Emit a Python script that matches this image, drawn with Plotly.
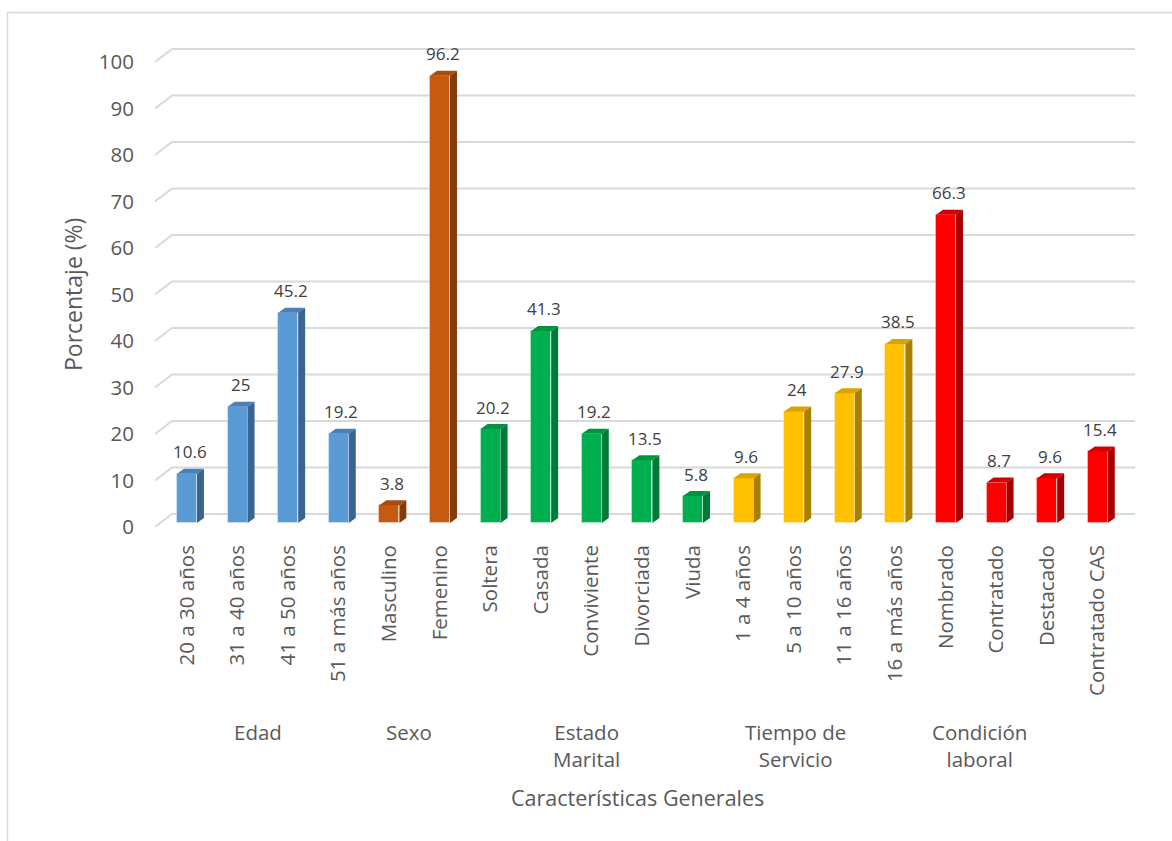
import plotly.graph_objects as go

# Survey categories, grouped by characteristic
categories = [
    "20 a 30 años", "31 a 40 años", "41 a 50 años", "51 a más años",
    "Masculino", "Femenino",
    "Soltera", "Casada", "Conviviente", "Divorciada", "Viuda",
    "1 a 4 años", "5 a 10 años", "11 a 16 años", "16 a más años",
    "Nombrado", "Contratado", "Destacado", "Contratado CAS",
]
percentages = [
    10.6, 25, 45.2, 19.2,
    3.8, 96.2,
    20.2, 41.3, 19.2, 13.5, 5.8,
    9.6, 24, 27.9, 38.5,
    66.3, 8.7, 9.6, 15.4,
]
group_of_bar = [0] * 4 + [1] * 2 + [2] * 5 + [3] * 4 + [4] * 4
group_labels = ["Edad", "Sexo", "Estado<br>Marital", "Tiempo de<br>Servicio", "Condición<br>laboral"]
group_label_x = [1.40, 4.39, 7.90, 12.02, 15.67]
y_ticks = list(range(0, 101, 10))

# (front, top, side) shades per group
palette = [
    ("#5B9BD5", "#4A80B6", "#3A6590"),
    ("#C55A11", "#A84C0E", "#843C0C"),
    ("#00B050", "#00943F", "#007A37"),
    ("#FFC000", "#D9A400", "#A98000"),
    ("#FF0000", "#D40000", "#A80000"),
]

half_w = 0.1975        # half bar width (category units)
dx, dv = 0.138, 1.075  # depth offset of the 3D faces
grid_front, grid_back, grid_back_x = -0.86, 1.935, -0.296
x_lo, x_hi = -0.632, 18.735

W, H = 1172, 841
L, R, T, B = 155, 37, 40, 311
pw, ph = W - L - R, H - T - B


def px_x(p):
    return (p - L) / pw


def px_y(p):
    return (H - B - p) / ph


fig = go.Figure()

# Back-wall gridlines with the perspective kink on the left
for t in y_ticks:
    fig.add_shape(
        type="path", xref="x", yref="y", layer="below",
        path=f"M {x_lo},{t + grid_front} L {grid_back_x},{t + grid_back} L {x_hi},{t + grid_back}",
        line=dict(color="#D9D9D9", width=2),
    )

# Front faces
fig.add_trace(go.Bar(
    x=list(range(len(categories))), y=percentages, width=2 * half_w,
    marker=dict(color=[palette[g][0] for g in group_of_bar],
                line=dict(color="rgba(255,255,255,0.35)", width=1)),
    showlegend=False, hoverinfo="skip",
))

# Top and side faces
for g in range(len(palette)):
    tx, ty, sx, sy = [], [], [], []
    for i, v in enumerate(percentages):
        if group_of_bar[i] != g:
            continue
        l, r = i - half_w, i + half_w
        tx += [l, r, r + dx, l + dx, l, None]
        ty += [v, v, v + dv, v + dv, v, None]
        sx += [r, r + dx, r + dx, r, r, None]
        sy += [0, dv, v + dv, v, 0, None]
    fig.add_trace(go.Scatter(x=tx, y=ty, fill="toself", fillcolor=palette[g][1], mode="lines",
                             line=dict(width=0), hoverinfo="skip", showlegend=False))
    fig.add_trace(go.Scatter(x=sx, y=sy, fill="toself", fillcolor=palette[g][2], mode="lines",
                             line=dict(width=0), hoverinfo="skip", showlegend=False))

# Value labels above bars
for i, v in enumerate(percentages):
    fig.add_annotation(x=i + 0.05, y=v, text=f"{v:g}", showarrow=False, yshift=22,
                       font=dict(size=17, color="#404040", family="Open Sans"))

# Group labels under the category labels
for lab, xg in zip(group_labels, group_label_x):
    fig.add_annotation(x=xg, xref="x", y=px_y(716), yref="paper", text=lab, showarrow=False,
                       xanchor="center", yanchor="top",
                       font=dict(size=20.5, color="#595959", family="Open Sans"))

# Chart border (bottom and right edges run past the canvas)
fig.add_shape(type="rect", xref="paper", yref="paper",
              x0=px_x(7.5), x1=px_x(1180), y0=px_y(850), y1=px_y(12.5),
              line=dict(color="#D9D9D9", width=1.5))

fig.update_layout(
    width=W, height=H,
    margin=dict(l=L, r=R, t=T, b=B),
    paper_bgcolor="white", plot_bgcolor="white",
    font=dict(family="Open Sans", color="#595959"),
    bargap=0,
    xaxis=dict(
        range=[x_lo, x_hi], tickmode="array", tickvals=list(range(len(categories))),
        ticktext=categories, tickangle=-90, showgrid=False, zeroline=False,
        showline=False, ticks="", ticklabelstandoff=10,
        tickfont=dict(size=20.5, color="#595959"),
    ),
    yaxis=dict(
        range=[-1.505, 103.87], tickmode="array",
        tickvals=[t + grid_front for t in y_ticks], ticktext=[str(t) for t in y_ticks],
        showgrid=False, zeroline=False, showline=False, ticks="",
        ticklabelstandoff=20, tickfont=dict(size=20.5, color="#595959"),
    ),
)

# Axis titles
fig.add_annotation(xref="paper", yref="paper", x=px_x(637), y=px_y(797),
                   xanchor="center", yanchor="middle",
                   text="Características Generales", showarrow=False,
                   font=dict(size=21.5, color="#595959", family="Open Sans"))
fig.add_annotation(xref="paper", yref="paper", x=px_x(73), y=px_y(295),
                   xanchor="center", yanchor="middle",
                   text="Porcentaje (%)", showarrow=False, textangle=-90,
                   font=dict(size=23, color="#595959", family="Open Sans"))

fig.write_html("out.html")
